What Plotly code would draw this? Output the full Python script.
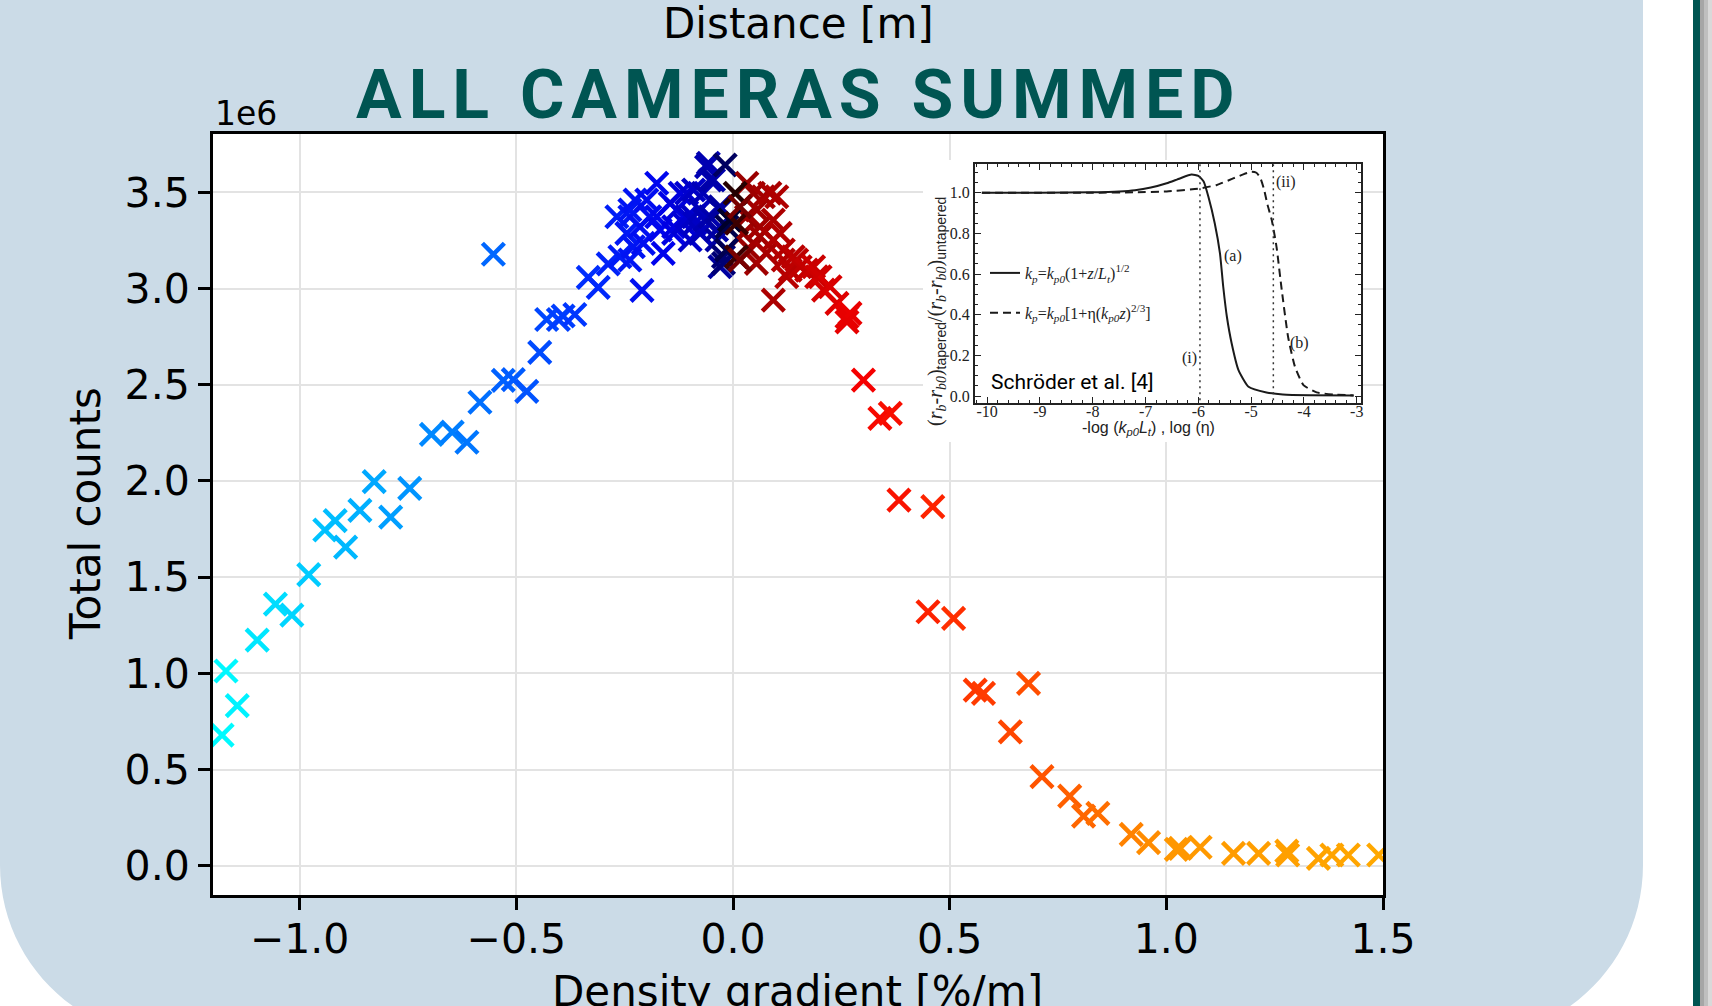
import plotly.graph_objects as go

# ---------------- measured data: all cameras summed ----------------
# density gradient [%/m]
density_gradient = [
    -1.179, -1.144, -1.170, -1.098, -1.056, -1.018, -0.979, -0.942, -0.918, -0.894,
    -0.861, -0.828, -0.790, -0.746, -0.696, -0.648, -0.614, -0.584, -0.530, -0.507,
    -0.476, -0.446, -0.430, -0.403, -0.392, -0.365, -0.334, -0.311, -0.288, -0.553,
    -0.261, -0.268, -0.245, -0.238, -0.238, -0.238, -0.230, -0.226, -0.215, -0.210,
    -0.207, -0.199, -0.192, -0.176, -0.176, -0.168, -0.161, -0.145, -0.137, -0.137,
    -0.130, -0.122, -0.114, -0.107, -0.107, -0.099, -0.092, -0.091, -0.088, -0.076,
    -0.076, -0.069, -0.065, -0.061, -0.057, -0.053, -0.053, -0.045, -0.038, -0.037,
    -0.030, -0.030, -0.030, -0.022, -0.022, -0.018, -0.014,
    0.024, 0.031, 0.032, 0.039, 0.047, 0.054, 0.055, 0.062, 0.062, 0.070,
    0.077, 0.085, 0.093, 0.093, 0.093, 0.101, 0.109, 0.116, 0.116, 0.124,
    0.132, 0.139, 0.147, 0.155, 0.170, 0.186, 0.193, 0.201, 0.209, 0.224,
    0.240, 0.263, 0.270, 0.263,
    0.301, 0.339, 0.363, 0.383, 0.461, 0.450, 0.509, 0.559, 0.578, 0.682,
    0.640, 0.713, 0.777, 0.809, 0.842, 0.919, 0.959, 1.023, 1.032, 1.078,
    1.155, 1.213, 1.278, 1.280, 1.351, 1.382, 1.420, 1.490,
    -0.015, -0.008, 0.005, 0.008, 0.008, 0.016, 0.016,
]
# total counts [1e6]
total_counts_e6 = [
    0.679, 0.832, 1.012, 1.173, 1.360, 1.303, 1.513, 1.745, 1.794, 1.656,
    1.847, 1.996, 1.812, 1.961, 2.242, 2.254, 2.201, 2.409, 2.523, 2.526,
    2.465, 2.668, 2.839, 2.839, 2.857, 2.865, 3.058, 3.006, 3.128, 3.178,
    3.165, 3.373, 3.287, 3.148, 3.373, 3.408, 3.217, 3.460, 3.321, 2.990,
    3.235, 3.460, 3.373, 3.547, 3.373, 3.304, 3.183, 3.443, 3.287, 3.321,
    3.408, 3.495, 3.339, 3.495, 3.373, 3.252, 3.373, 3.512, 3.339, 3.287,
    3.408, 3.495, 3.356, 3.633, 3.651, 3.564, 3.373, 3.564, 3.304, 3.252,
    3.425, 3.113, 3.408, 3.165, 3.131, 3.642, 3.321,
    3.287, 3.373, 3.547, 3.200, 3.495, 3.131, 3.408, 3.321, 3.270, 3.477,
    3.183, 3.495, 3.356, 3.252, 2.940, 3.477, 3.287, 3.200, 3.148, 3.061,
    3.096, 3.165, 3.148, 3.113, 3.096, 3.113, 3.061, 3.061, 2.992, 3.009,
    2.923, 2.853, 2.871, 2.827,
    2.524, 2.325, 2.351, 1.900, 1.866, 1.320, 1.286, 0.913, 0.896, 0.948,
    0.696, 0.463, 0.362, 0.258, 0.272, 0.163, 0.120, 0.085, 0.090, 0.096,
    0.064, 0.064, 0.076, 0.056, 0.038, 0.056, 0.056, 0.056,
    3.200, 3.356, 3.495, 3.165, 3.339, 3.425, 3.148,
]

x_ticks = [-1.0, -0.5, 0.0, 0.5, 1.0, 1.5]
y_ticks = [0.0, 0.5, 1.0, 1.5, 2.0, 2.5, 3.0, 3.5]

# ---------------- reference curves (Schröder et al.) ----------------
ref_x_a = [-10.1, -9.0, -8.0, -7.5, -7.2, -6.9, -6.6, -6.35, -6.13, -6.0, -5.9,
           -5.81, -5.69, -5.59, -5.53, -5.46, -5.37, -5.24, -5.05, -4.71, -4.4,
           -3.9, -3.06]
ref_y_a = [1.0, 1.0, 1.002, 1.006, 1.012, 1.025, 1.046, 1.07, 1.089, 1.083, 1.055,
           0.98, 0.85, 0.70, 0.54, 0.39, 0.26, 0.128, 0.046, 0.018, 0.008,
           0.004, 0.003]
ref_x_b = [-10.1, -8.0, -7.2, -6.6, -6.0, -5.65, -5.34, -5.15, -4.99, -4.9, -4.83,
           -4.76, -4.69, -4.61, -4.52, -4.42, -4.3, -4.17, -4.01, -3.76, -3.44, -3.06]
ref_y_b = [1.0, 1.0, 1.002, 1.006, 1.02, 1.038, 1.07, 1.09, 1.103, 1.098, 1.075,
           1.02, 0.94, 0.866, 0.734, 0.52, 0.29, 0.144, 0.054, 0.018, 0.008, 0.003]
ref_marks_x = [-5.97, -4.58]
ref_x_ticks = [-10, -9, -8, -7, -6, -5, -4, -3]
ref_y_ticks = [0.0, 0.2, 0.4, 0.6, 0.8, 1.0]

# ---------------- page geometry (pixels) ----------------
W, H = 1712, 1006
L, R, T, B = 213, 1383, 134, 895


def px(x):
    return (x - L) / (R - L)


def py(y):
    return (B - y) / (B - T)


PANEL = "#cbdbe7"
TEAL = "#005552"

# colour follows the density gradient: cyan -> blue -> black -> dark red -> orange
grad_stops = [
    (-1.2, "rgb(0,255,255)"), (-0.9, "rgb(0,185,255)"), (-0.6, "rgb(0,115,255)"),
    (-0.35, "rgb(0,50,255)"), (-0.15, "rgb(0,0,235)"), (-0.03, "rgb(0,0,160)"),
    (0.0, "rgb(0,0,0)"), (0.02, "rgb(150,0,0)"), (0.15, "rgb(190,0,0)"),
    (0.3, "rgb(245,0,0)"), (0.5, "rgb(255,45,0)"), (0.8, "rgb(255,100,0)"),
    (1.0, "rgb(255,150,0)"), (1.5, "rgb(255,168,0)"),
]
cmin, cmax = -1.2, 1.5
colorscale = [[(v - cmin) / (cmax - cmin), c] for v, c in grad_stops]

fig = go.Figure()

fig.add_trace(go.Scatter(
    x=density_gradient, y=total_counts_e6, mode="markers",
    marker=dict(symbol="x-thin", size=22,
                color=density_gradient, colorscale=colorscale, cmin=cmin, cmax=cmax,
                line=dict(width=4.5, color=density_gradient, colorscale=colorscale,
                          cmin=cmin, cmax=cmax)),
    showlegend=False, hoverinfo="skip", xaxis="x", yaxis="y",
))

# white card behind the inset figure
fig.add_trace(go.Scatter(x=[], y=[], xaxis="x2", yaxis="y2", showlegend=False))

# inset: reference curves
name_a = ("<i>k</i><sub><i>p</i></sub>=<i>k</i><sub><i>p0</i></sub>"
          "(1+<i>z</i>/<i>L</i><sub><i>t</i></sub>)<sup>1/2</sup>")
name_b = ("<i>k</i><sub><i>p</i></sub>=<i>k</i><sub><i>p0</i></sub>"
          "[1+η(<i>k</i><sub><i>p0</i></sub><i>z</i>)<sup>2/3</sup>]")
fig.add_trace(go.Scatter(
    x=ref_x_a, y=ref_y_a, mode="lines", name=name_a, legendgroup="a",
    line=dict(color="#1a1a1a", width=2, shape="spline", smoothing=0.5),
    xaxis="x3", yaxis="y3", hoverinfo="skip",
))
fig.add_trace(go.Scatter(
    x=ref_x_b, y=ref_y_b, mode="lines", name=name_b, legendgroup="b",
    line=dict(color="#1a1a1a", width=2, shape="spline", smoothing=0.5, dash="8px,5px"),
    xaxis="x3", yaxis="y3", hoverinfo="skip",
))
mark_x, mark_y = [], []
for m in ref_marks_x:
    mark_x += [m, m, None]
    mark_y += [-0.05, 1.2, None]
fig.add_trace(go.Scatter(
    x=mark_x, y=mark_y, mode="lines", showlegend=False, hoverinfo="skip",
    line=dict(color="#333333", width=1.5, dash="2px,4px"),
    xaxis="x3", yaxis="y3",
))


# ---------------- page decoration ----------------
def P(x, y):
    return f"{px(x):.5f},{py(y):.5f}"


k = 0.5523
rad = 173
corner_y = 865
left_corner = (f"M{P(-5, corner_y)} L{P(0, corner_y)} "
               f"C{P(0, corner_y + k * rad)} {P(rad - k * rad, corner_y + rad)} {P(rad, corner_y + rad)} "
               f"L{P(rad, 1050)} L{P(-5, 1050)} Z")
rx = 1643
right_corner = (f"M{P(rx, corner_y)} "
                f"C{P(rx, corner_y + k * rad)} {P(rx - rad + k * rad, corner_y + rad)} {P(rx - rad, corner_y + rad)} "
                f"L{P(rx - rad, 1050)} L{P(rx, 1050)} Z")

shapes = [
    dict(type="path", path=left_corner, xref="paper", yref="paper",
         fillcolor="white", line=dict(width=0), layer="below"),
    dict(type="path", path=right_corner, xref="paper", yref="paper",
         fillcolor="white", line=dict(width=0), layer="below"),
    dict(type="rect", xref="paper", yref="paper", x0=px(rx), x1=px(1693),
         y0=py(1050), y1=py(-10), fillcolor="white", line=dict(width=0), layer="below"),
    dict(type="rect", xref="paper", yref="paper", x0=px(1693), x1=px(1700),
         y0=py(1050), y1=py(-10), fillcolor=TEAL, line=dict(width=0), layer="below"),
    dict(type="rect", xref="paper", yref="paper", x0=px(1700), x1=px(1704),
         y0=py(1050), y1=py(-10), fillcolor="#a6a6a6", line=dict(width=0), layer="below"),
    dict(type="rect", xref="paper", yref="paper", x0=px(1704), x1=px(1708),
         y0=py(1050), y1=py(-10), fillcolor="#bfbfbf", line=dict(width=0), layer="below"),
    dict(type="rect", xref="paper", yref="paper", x0=px(1708), x1=px(1713),
         y0=py(1050), y1=py(-10), fillcolor="#d9d9d9", line=dict(width=0), layer="below"),
]

title_text = "\u200a".join("ALL CAMERAS SUMMED")
label_font = dict(family="DejaVu Sans", size=42, color="black")
sans_sub = "<sub><span style='font-family:Liberation Sans'>{}</span></sub>"

annotations = [
    dict(text="Distance [m]", x=0.5, y=py(23), xref="paper", yref="paper",
         showarrow=False, xanchor="center", yanchor="middle", font=label_font),
    dict(text=f"<b>{title_text}</b>", x=px(795), y=py(95), xref="paper", yref="paper",
         showarrow=False, xanchor="center", yanchor="middle",
         font=dict(family="Roboto", size=68, color=TEAL, weight=900)),
    dict(text="1e6", x=0.0, y=py(113), xref="paper", yref="paper",
         showarrow=False, xanchor="left", yanchor="middle",
         font=dict(family="DejaVu Sans", size=33, color="black")),
    dict(text="Total counts", x=px(85), y=py(514), xref="paper", yref="paper",
         showarrow=False, xanchor="center", yanchor="middle", textangle=-90,
         font=label_font),
    dict(text="Density gradient [%/m]", x=px(797), y=py(991), xref="paper", yref="paper",
         showarrow=False, xanchor="center", yanchor="middle", font=label_font),
    dict(text="Schröder et al. [4]", x=px(989), y=py(382), xref="paper", yref="paper",
         showarrow=False, xanchor="left", yanchor="middle",
         font=dict(family="Roboto", size=21, color="black")),
    dict(text="-log (<i>k</i><sub><i>p0</i></sub><i>L</i><sub><i>t</i></sub>) , log (η)",
         x=px(1148), y=py(428), xref="paper", yref="paper",
         showarrow=False, xanchor="center", yanchor="middle",
         font=dict(family="Liberation Sans", size=16, color="#222")),
    dict(text="(<i>r</i><sub><i>b</i></sub>-<i>r</i><sub><i>b0</i></sub>)" + sans_sub.format("tapered")
              + "/(<i>r</i><sub><i>b</i></sub>-<i>r</i><sub><i>b0</i></sub>)" + sans_sub.format("untapered"),
         x=px(936), y=py(312), xref="paper", yref="paper", textangle=-90,
         showarrow=False, xanchor="center", yanchor="middle",
         font=dict(family="Liberation Serif", size=20, color="#222")),
]
for txt, ax, ay in [("(i)", -6.17, 0.185), ("(ii)", -4.34, 1.054),
                    ("(a)", -5.34, 0.69), ("(b)", -4.09, 0.26)]:
    annotations.append(dict(text=txt, x=ax, y=ay, xref="x3", yref="y3", showarrow=False,
                            font=dict(family="Liberation Serif", size=16, color="#222")))

tick_font = dict(family="DejaVu Sans", size=41, color="black")
serif = dict(family="Liberation Serif", size=16, color="#222")

fig.update_layout(
    width=W, height=H, autosize=False,
    margin=dict(l=L, r=W - R, t=T, b=H - B, pad=0),
    paper_bgcolor=PANEL, plot_bgcolor="white",
    shapes=shapes, annotations=annotations,
    showlegend=True,
    legend=dict(x=px(985), y=py(256), xanchor="left", yanchor="top",
                bgcolor="rgba(0,0,0,0)", font=serif, tracegroupgap=16,
                traceorder="grouped", itemwidth=30),
    xaxis=dict(
        domain=[0, 1], anchor="y", range=[-1.2, 1.5], automargin=False,
        tickvals=x_ticks, tickformat=".1f", tickfont=tick_font,
        ticks="outside", ticklen=12, tickwidth=2.5, tickcolor="black",
        ticklabelstandoff=-6,
        showline=True, linecolor="black", linewidth=3, mirror=True,
        showgrid=True, gridcolor="#e3e3e3", gridwidth=2, zeroline=False,
    ),
    yaxis=dict(
        domain=[0, 1], anchor="x", range=[-0.152, 3.803], automargin=False,
        tickvals=y_ticks, tickformat=".1f", tickfont=tick_font,
        ticks="outside", ticklen=12, tickwidth=2.5, tickcolor="black",
        showline=True, linecolor="black", linewidth=3, mirror=True,
        showgrid=True, gridcolor="#e3e3e3", gridwidth=2, zeroline=False,
    ),
    xaxis2=dict(domain=[px(923), px(1363)], anchor="y2", range=[0, 1], visible=False),
    yaxis2=dict(domain=[py(442), py(160)], anchor="x2", range=[0, 1], visible=False),
    xaxis3=dict(
        domain=[px(975), px(1361)], anchor="y3", range=[-10.23, -2.92], automargin=False,
        tickvals=ref_x_ticks, ticktext=[str(v) for v in ref_x_ticks], tickfont=serif,
        ticks="inside", ticklen=6, tickwidth=1.2, tickcolor="#222", ticklabelstandoff=-7,
        minor=dict(ticks="inside", ticklen=3, dtick=0.2, tickcolor="#222", tickwidth=1),
        showline=True, linecolor="#222", linewidth=2, mirror="allticks",
        showgrid=False, zeroline=False,
    ),
    yaxis3=dict(
        domain=[py(403), py(164)], anchor="x3", range=[-0.034, 1.141], automargin=False,
        tickvals=ref_y_ticks, ticktext=[f"{v:.1f}" for v in ref_y_ticks], tickfont=serif,
        ticks="inside", ticklen=6, tickwidth=1.2, tickcolor="#222",
        minor=dict(ticks="inside", ticklen=3, dtick=0.05, tickcolor="#222", tickwidth=1),
        showline=True, linecolor="#222", linewidth=2, mirror="allticks",
        showgrid=False, zeroline=False,
    ),
)

fig.write_html("out.html")
